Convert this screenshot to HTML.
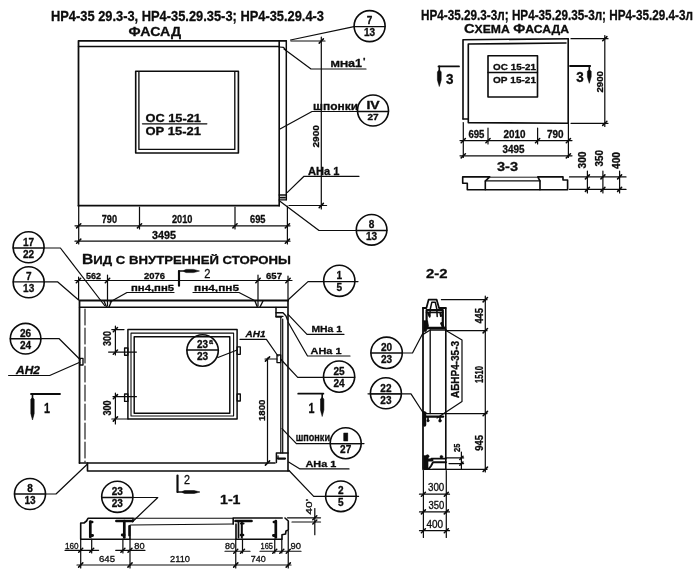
<!DOCTYPE html>
<html lang="ru"><head><meta charset="utf-8"><title>НР4-35.29</title>
<style>
html,body{margin:0;padding:0;background:#fff;}
svg{display:block;will-change:transform;-webkit-font-smoothing:antialiased}
svg text{font-family:"Liberation Sans",sans-serif;fill:#0c0c0c;stroke:#0c0c0c;stroke-width:0.3;stroke-linejoin:round}
svg line,svg path,svg rect,svg circle{stroke:#0c0c0c;stroke-linecap:round;stroke-linejoin:round}
</style></head><body>
<svg width="700" height="584" viewBox="0 0 700 584">
<rect x="0" y="0" width="700" height="584" fill="#fff" stroke="none" style="stroke:none"/>
<text x="51" y="20.5" font-size="15" font-weight="bold" textLength="273" lengthAdjust="spacingAndGlyphs">НР4-35 29.3-3, НР4-35.29.35-3; НР4-35.29.4-3</text>
<text x="128.6" y="36" font-size="12.5" font-weight="bold" textLength="52.4" lengthAdjust="spacingAndGlyphs">ФАСАД</text>
<path d="M78.5 205.7 L78.5 40.8 L286 40.8" stroke-width="1.76" fill="none"/>
<line x1="78.5" y1="46.5" x2="279.2" y2="46.5" stroke-width="1.35"/>
<line x1="279.2" y1="40.8" x2="279.2" y2="205.7" stroke-width="1.62"/>
<line x1="286.3" y1="40.8" x2="286.3" y2="199.8" stroke-width="1.49"/>
<path d="M279.2 47 L283.5 47.3 L285.8 50" stroke-width="1.22" fill="none"/>
<line x1="78.5" y1="205.7" x2="279.2" y2="205.7" stroke-width="1.76"/>
<path d="M279.2 195 L286.3 195" stroke-width="1.35" fill="none"/>
<path d="M279.2 199.8 L286.3 199.8" stroke-width="1.35" fill="none"/>
<line x1="280.5" y1="197.6" x2="285" y2="197.6" stroke-width="1.76"/>
<rect x="135.7" y="71.2" width="102.7" height="81.8" stroke-width="1.62" fill="none"/>
<path d="M138.9 72 L138.9 149.4 L234.8 149.4 L234.8 72" stroke-width="1.35" fill="none"/>
<text x="145.5" y="121.6" font-size="11" font-weight="bold" textLength="55.5" lengthAdjust="spacingAndGlyphs">ОС 15-21</text>
<line x1="142.5" y1="123.8" x2="206.8" y2="123.8" stroke-width="1.35"/>
<text x="145.5" y="135.4" font-size="11" font-weight="bold" textLength="55.5" lengthAdjust="spacingAndGlyphs">ОР 15-21</text>
<path d="M290.5 40 L354 26.6" stroke-width="1.22" fill="none"/>
<line x1="291" y1="41" x2="325" y2="41" stroke-width="1.22"/>
<line x1="321.3" y1="37" x2="321.3" y2="209" stroke-width="1.22"/>
<line x1="319.2" y1="43.1" x2="323.4" y2="38.9" stroke-width="1.55"/>
<line x1="319.2" y1="207.6" x2="323.4" y2="203.4" stroke-width="1.55"/>
<line x1="289" y1="205.5" x2="326.6" y2="205.5" stroke-width="1.22"/>
<text x="318.5" y="147.5" font-size="9.5" font-weight="bold" textLength="22.5" lengthAdjust="spacingAndGlyphs" transform="rotate(-90 318.5 147.5)">2900</text>
<path d="M284 49 L311 69 L366 69" stroke-width="1.22" fill="none"/>
<text x="330.5" y="67" font-weight="bold" textLength="31.5" lengthAdjust="spacingAndGlyphs"><tspan font-size="9">МН</tspan><tspan font-size="10">а</tspan><tspan font-size="10">1</tspan></text>
<text x="363" y="64" font-size="9" font-weight="bold" textLength="2.5" lengthAdjust="spacingAndGlyphs">'</text>
<path d="M280 129 L312 111.5 L359 111.5" stroke-width="1.22" fill="none"/>
<text x="313" y="109.7" font-size="11.5" font-weight="bold" textLength="45" lengthAdjust="spacingAndGlyphs">шпонки</text>
<circle cx="373" cy="110.5" r="15.5" stroke-width="1.62" fill="none"/>
<line x1="357.5" y1="111.5" x2="388.5" y2="111.5" stroke-width="1.35"/>
<text x="366.4" y="109.3" font-size="10" font-weight="bold" font-family="Liberation Serif, serif" textLength="13.2" lengthAdjust="spacingAndGlyphs">IV</text>
<text x="367.4" y="120.28" font-size="9" font-weight="bold" textLength="11.2" lengthAdjust="spacingAndGlyphs">27</text>
<path d="M287.4 192.4 L304 176.3 L359 176.3" stroke-width="1.22" fill="none"/>
<text x="308" y="175" font-size="10.5" font-weight="bold" textLength="31.5" lengthAdjust="spacingAndGlyphs">АНа 1</text>
<path d="M279.3 200.8 L319 230.5 L356 230.5" stroke-width="1.22" fill="none"/>
<circle cx="371.6" cy="229.8" r="15.3" stroke-width="1.62" fill="none"/>
<line x1="356.3" y1="230.5" x2="386.9" y2="230.5" stroke-width="1.35"/>
<text x="368.8" y="228.3" font-size="10.5" font-weight="bold" textLength="5.6" lengthAdjust="spacingAndGlyphs">8</text>
<text x="366.0" y="240.36" font-size="10.5" font-weight="bold" textLength="11.2" lengthAdjust="spacingAndGlyphs">13</text>
<circle cx="369.6" cy="26.1" r="15.5" stroke-width="1.62" fill="none"/>
<line x1="354.1" y1="26.6" x2="385.1" y2="26.6" stroke-width="1.35"/>
<text x="366.8" y="24.4" font-size="10.5" font-weight="bold" textLength="5.6" lengthAdjust="spacingAndGlyphs">7</text>
<text x="364.0" y="36.46" font-size="10.5" font-weight="bold" textLength="11.2" lengthAdjust="spacingAndGlyphs">13</text>
<line x1="78.7" y1="206" x2="78.7" y2="244" stroke-width="1.22"/>
<line x1="139.5" y1="207" x2="139.5" y2="229" stroke-width="1.22"/>
<line x1="235" y1="207" x2="235" y2="229" stroke-width="1.22"/>
<line x1="287.4" y1="206" x2="287.4" y2="244" stroke-width="1.22"/>
<line x1="75" y1="225.8" x2="290" y2="225.8" stroke-width="1.22"/>
<line x1="75" y1="241.2" x2="290" y2="241.2" stroke-width="1.22"/>
<line x1="76.6" y1="227.9" x2="80.8" y2="223.7" stroke-width="1.55"/>
<line x1="137.4" y1="227.9" x2="141.6" y2="223.7" stroke-width="1.55"/>
<line x1="232.9" y1="227.9" x2="237.1" y2="223.7" stroke-width="1.55"/>
<line x1="285.3" y1="227.9" x2="289.5" y2="223.7" stroke-width="1.55"/>
<line x1="76.6" y1="243.3" x2="80.8" y2="239.1" stroke-width="1.55"/>
<line x1="285.3" y1="243.3" x2="289.5" y2="239.1" stroke-width="1.55"/>
<text x="101.7" y="223.3" font-size="10.3" font-weight="bold" textLength="15.3" lengthAdjust="spacingAndGlyphs">790</text>
<text x="172" y="223.3" font-size="10.3" font-weight="bold" textLength="20.5" lengthAdjust="spacingAndGlyphs">2010</text>
<text x="250" y="223.3" font-size="10.3" font-weight="bold" textLength="15.5" lengthAdjust="spacingAndGlyphs">695</text>
<text x="152" y="238.6" font-size="10.5" font-weight="bold" textLength="24" lengthAdjust="spacingAndGlyphs">3495</text>
<text x="82" y="263.5" font-weight="bold" textLength="209" lengthAdjust="spacingAndGlyphs"><tspan font-size="14">В</tspan><tspan font-size="11.8">ИД С ВНУТРЕННЕЙ СТОРОНЫ</tspan></text>
<circle cx="28.6" cy="247.3" r="15.5" stroke-width="1.62" fill="none"/>
<line x1="13.1" y1="248" x2="44.1" y2="248" stroke-width="1.35"/>
<text x="23.0" y="245.8" font-size="10.5" font-weight="bold" textLength="11.2" lengthAdjust="spacingAndGlyphs">17</text>
<text x="23.0" y="257.86" font-size="10.5" font-weight="bold" textLength="11.2" lengthAdjust="spacingAndGlyphs">22</text>
<path d="M44 248 L60.4 248 L104.6 305.5" stroke-width="1.22" fill="none"/>
<circle cx="28.7" cy="282.3" r="15.5" stroke-width="1.62" fill="none"/>
<line x1="13.2" y1="281.8" x2="44.2" y2="281.8" stroke-width="1.35"/>
<text x="25.9" y="279.6" font-size="10.5" font-weight="bold" textLength="5.6" lengthAdjust="spacingAndGlyphs">7</text>
<text x="23.1" y="291.66" font-size="10.5" font-weight="bold" textLength="11.2" lengthAdjust="spacingAndGlyphs">13</text>
<path d="M44 281.8 L57.5 281.8 L78 299.5" stroke-width="1.22" fill="none"/>
<line x1="75" y1="280.5" x2="292" y2="280.5" stroke-width="1.22"/>
<line x1="78.6" y1="277" x2="78.6" y2="300" stroke-width="1.22"/>
<line x1="107.5" y1="275" x2="107.5" y2="306" stroke-width="1.22"/>
<line x1="258" y1="275" x2="258" y2="306" stroke-width="1.22"/>
<line x1="288" y1="276" x2="288" y2="301" stroke-width="1.22"/>
<line x1="76.3" y1="282.7" x2="80.7" y2="278.3" stroke-width="1.55"/>
<line x1="105.3" y1="282.7" x2="109.7" y2="278.3" stroke-width="1.55"/>
<line x1="255.8" y1="282.7" x2="260.2" y2="278.3" stroke-width="1.55"/>
<line x1="285.8" y1="282.7" x2="290.2" y2="278.3" stroke-width="1.55"/>
<text x="86" y="278.5" font-size="9.5" font-weight="bold" textLength="15" lengthAdjust="spacingAndGlyphs">562</text>
<text x="144" y="278.5" font-size="9.5" font-weight="bold" textLength="21" lengthAdjust="spacingAndGlyphs">2076</text>
<text x="266" y="278.5" font-size="9.5" font-weight="bold" textLength="16" lengthAdjust="spacingAndGlyphs">657</text>
<line x1="179" y1="271" x2="179" y2="285.7" stroke-width="2.16"/>
<line x1="179" y1="271" x2="195.5" y2="271" stroke-width="1.62"/>
<path d="M184 270.4 L186 269.4 L193.5 269.4 L199.5 271 L193.5 272.6 L186 272.6 L184 271.6 Z" stroke-width="0.54" fill="#0c0c0c"/>
<text x="204.2" y="278.4" font-size="13.5" font-weight="normal" textLength="6.2" lengthAdjust="spacingAndGlyphs">2</text>
<text x="131" y="291" font-size="9.8" font-weight="bold" textLength="43" lengthAdjust="spacingAndGlyphs">пн4,пн5</text>
<path d="M174 292.5 L127 292.5 L110 302" stroke-width="1.22" fill="none"/>
<text x="194" y="291" font-size="9.8" font-weight="bold" textLength="45" lengthAdjust="spacingAndGlyphs">пн4,пн5</text>
<path d="M193 292.5 L239 292.5 L254.5 300.5" stroke-width="1.22" fill="none"/>
<path d="M104 301 L106.5 307" stroke-width="1.35" fill="none"/>
<path d="M111.5 301 L109 307" stroke-width="1.35" fill="none"/>
<path d="M255 301 L257.3 307" stroke-width="1.35" fill="none"/>
<path d="M263 301 L260 307" stroke-width="1.35" fill="none"/>
<path d="M79.5 463 L79.5 300.5 L288 300.5" stroke-width="1.76" fill="none"/>
<line x1="79.5" y1="307.2" x2="287" y2="307.2" stroke-width="1.35"/>
<line x1="85" y1="309" x2="85" y2="462" stroke-width="1.1" stroke-dasharray="16 3"/>
<line x1="280.8" y1="317" x2="280.8" y2="453" stroke-width="1.22"/>
<line x1="282.7" y1="319" x2="282.7" y2="453" stroke-width="1.22"/>
<line x1="288" y1="300.5" x2="288" y2="471" stroke-width="1.62"/>
<path d="M79.5 463 L275 463" stroke-width="1.62" fill="none"/>
<path d="M87.5 463 L87.5 471 L289 471" stroke-width="1.62" fill="none"/>
<path d="M276 307.5 L276 317 L281.5 317" stroke-width="1.49" fill="none"/>
<path d="M276 312.7 L283 312.7 L286 316 L287.5 320" stroke-width="1.35" fill="none"/>
<line x1="276" y1="316.3" x2="283" y2="316.3" stroke-width="1.35"/>
<path d="M276.4 462.5 L276.4 453 L288 453" stroke-width="1.49" fill="none"/>
<line x1="278" y1="458.6" x2="285" y2="458.6" stroke-width="2.16"/>
<line x1="278" y1="456" x2="278" y2="458.6" stroke-width="1.35"/>
<circle cx="339.3" cy="280.8" r="15.6" stroke-width="1.62" fill="none"/>
<line x1="323.7" y1="281.6" x2="354.9" y2="281.6" stroke-width="1.35"/>
<text x="336.5" y="279.4" font-size="10.5" font-weight="bold" textLength="5.6" lengthAdjust="spacingAndGlyphs">1</text>
<text x="336.5" y="291.46" font-size="10.5" font-weight="bold" textLength="5.6" lengthAdjust="spacingAndGlyphs">5</text>
<path d="M324 281.6 L308 281.6 L288.5 299.5" stroke-width="1.22" fill="none"/>
<line x1="354" y1="281.6" x2="358" y2="281.6" stroke-width="1.22"/>
<rect x="127.9" y="329.6" width="109.2" height="89.4" stroke-width="1.49" fill="none"/>
<rect x="131" y="333.1" width="102.6" height="82.9" stroke-width="1.08" fill="none"/>
<rect x="134.2" y="336.7" width="95.6" height="76.5" stroke-width="1.49" fill="none"/>
<rect x="124.6" y="348" width="3.3" height="7.2" stroke-width="1.35" fill="none"/>
<rect x="124.6" y="394" width="3.3" height="7.4" stroke-width="1.35" fill="none"/>
<rect x="237.1" y="346.8" width="3.2" height="7.5" stroke-width="1.35" fill="none"/>
<rect x="237.1" y="394" width="3.2" height="7" stroke-width="1.35" fill="none"/>
<line x1="115.4" y1="326" x2="115.4" y2="355" stroke-width="1.22"/>
<line x1="111.8" y1="329.6" x2="124" y2="329.6" stroke-width="1.22"/>
<line x1="108.6" y1="352.1" x2="136.4" y2="352.1" stroke-width="1.22"/>
<line x1="113.3" y1="331.7" x2="117.5" y2="327.5" stroke-width="1.55"/>
<line x1="113.3" y1="354.2" x2="117.5" y2="350.0" stroke-width="1.55"/>
<text x="111.2" y="346" font-size="10.3" font-weight="bold" textLength="15" lengthAdjust="spacingAndGlyphs" transform="rotate(-90 111.2 346)">300</text>
<line x1="115.4" y1="393" x2="115.4" y2="424" stroke-width="1.22"/>
<line x1="113" y1="396.7" x2="136.4" y2="396.7" stroke-width="1.22"/>
<line x1="111.8" y1="419" x2="127.9" y2="419" stroke-width="1.22"/>
<line x1="113.3" y1="398.8" x2="117.5" y2="394.6" stroke-width="1.55"/>
<line x1="113.3" y1="421.1" x2="117.5" y2="416.9" stroke-width="1.55"/>
<text x="111.2" y="415.5" font-size="10.3" font-weight="bold" textLength="15.1" lengthAdjust="spacingAndGlyphs" transform="rotate(-90 111.2 415.5)">300</text>
<circle cx="25.6" cy="338.7" r="15.3" stroke-width="1.62" fill="none"/>
<line x1="10.3" y1="338.7" x2="40.9" y2="338.7" stroke-width="1.35"/>
<text x="20.0" y="336.5" font-size="10.5" font-weight="bold" textLength="11.2" lengthAdjust="spacingAndGlyphs">26</text>
<text x="20.0" y="348.56" font-size="10.5" font-weight="bold" textLength="11.2" lengthAdjust="spacingAndGlyphs">24</text>
<path d="M40 338.7 L59.2 338.7 L80 359.5" stroke-width="1.22" fill="none"/>
<rect x="79.8" y="358.4" width="3.2" height="6.6" stroke-width="1.35" fill="none"/>
<text x="16" y="374" font-size="10.3" font-weight="bold" font-style="italic" textLength="24" lengthAdjust="spacingAndGlyphs">АН2</text>
<path d="M8.6 375.5 L49.7 375.5 L79.8 362.3" stroke-width="1.22" fill="none"/>
<line x1="31" y1="394" x2="60" y2="394" stroke-width="1.76"/>
<line x1="32.5" y1="394" x2="32.5" y2="416" stroke-width="1.62"/>
<path d="M31.9 398 L30.8 399.5 L30.8 413.5 L32.5 420 L34.2 413.5 L34.2 399.5 L33.1 398 Z" stroke-width="0.54" fill="#0c0c0c"/>
<text x="44" y="413" font-size="14" font-weight="bold" textLength="6" lengthAdjust="spacingAndGlyphs">1</text>
<circle cx="202.6" cy="350.5" r="15.7" stroke-width="1.62" fill="none"/>
<line x1="186.9" y1="350" x2="218.3" y2="350" stroke-width="1.35"/>
<text x="197.1" y="347.8" font-size="10.5" font-weight="bold" textLength="11.0" lengthAdjust="spacingAndGlyphs">23</text>
<text x="197.0" y="359.86" font-size="10.5" font-weight="bold" textLength="11.2" lengthAdjust="spacingAndGlyphs">23</text>
<text x="209" y="343.5" font-size="7.5" font-weight="bold" textLength="4" lengthAdjust="spacingAndGlyphs">а</text>
<line x1="217.9" y1="357.5" x2="237.1" y2="350" stroke-width="1.22"/>
<text x="245.5" y="337.3" font-size="9.5" font-weight="bold" font-style="italic" textLength="20" lengthAdjust="spacingAndGlyphs">АН1</text>
<path d="M240 339.3 L266.4 339.3 L278 356" stroke-width="1.22" fill="none"/>
<rect x="277" y="355" width="3.7" height="7.6" stroke-width="1.35" fill="none"/>
<line x1="267.5" y1="358" x2="267.5" y2="463" stroke-width="1.22"/>
<line x1="265" y1="359" x2="277" y2="359" stroke-width="1.22"/>
<line x1="265.4" y1="361.1" x2="269.6" y2="356.9" stroke-width="1.55"/>
<line x1="265.4" y1="465.1" x2="269.6" y2="460.9" stroke-width="1.55"/>
<text x="264.5" y="421" font-size="9.5" font-weight="bold" textLength="21.5" lengthAdjust="spacingAndGlyphs" transform="rotate(-90 264.5 421)">1800</text>
<text x="311.4" y="331.5" font-size="9.8" font-weight="bold" textLength="30.6" lengthAdjust="spacingAndGlyphs">МНа 1</text>
<path d="M288 314.3 L307 334.3 L344 334.3" stroke-width="1.22" fill="none"/>
<text x="310.6" y="353.8" font-size="9.8" font-weight="bold" textLength="30.9" lengthAdjust="spacingAndGlyphs">АНа 1</text>
<path d="M288 322 L307.5 356 L350 356" stroke-width="1.22" fill="none"/>
<circle cx="339.1" cy="376.6" r="15.6" stroke-width="1.62" fill="none"/>
<line x1="323.5" y1="377.4" x2="354.7" y2="377.4" stroke-width="1.35"/>
<text x="333.5" y="375.2" font-size="10.5" font-weight="bold" textLength="11.2" lengthAdjust="spacingAndGlyphs">25</text>
<text x="333.5" y="387.26" font-size="10.5" font-weight="bold" textLength="11.2" lengthAdjust="spacingAndGlyphs">24</text>
<path d="M324 377.4 L297.7 377.4 L281 359.5" stroke-width="1.22" fill="none"/>
<line x1="298.2" y1="393.7" x2="323.4" y2="393.7" stroke-width="1.76"/>
<line x1="322.2" y1="393.7" x2="322.2" y2="412.5" stroke-width="1.62"/>
<path d="M321.6 397.7 L320.5 399.2 L320.5 410.0 L322.2 416.5 L323.9 410.0 L323.9 399.2 L322.8 397.7 Z" stroke-width="0.54" fill="#0c0c0c"/>
<text x="308.5" y="413" font-size="14" font-weight="bold" textLength="6.0" lengthAdjust="spacingAndGlyphs">1</text>
<text x="295.7" y="440.7" font-size="11" font-weight="bold" textLength="34.3" lengthAdjust="spacingAndGlyphs">шпонки</text>
<path d="M282 428.6 L296.4 443.6 L330 443.6" stroke-width="1.22" fill="none"/>
<circle cx="345.7" cy="443.2" r="15.5" stroke-width="1.62" fill="none"/>
<line x1="330.2" y1="443.6" x2="361.2" y2="443.6" stroke-width="1.35"/>
<text x="341.9" y="441.4" font-size="11.5" font-weight="bold" font-family="Liberation Serif, serif" textLength="7.6" lengthAdjust="spacingAndGlyphs">I</text>
<text x="340.1" y="453.46" font-size="10.5" font-weight="bold" textLength="11.2" lengthAdjust="spacingAndGlyphs">27</text>
<line x1="330" y1="443.6" x2="364" y2="443.6" stroke-width="1.22"/>
<text x="305.4" y="467.2" font-size="9.8" font-weight="bold" textLength="30.9" lengthAdjust="spacingAndGlyphs">АНа 1</text>
<path d="M288.6 462 L300 468.9 L349 468.9" stroke-width="1.22" fill="none"/>
<circle cx="340.9" cy="496.3" r="15.3" stroke-width="1.62" fill="none"/>
<line x1="325.6" y1="496.3" x2="356.2" y2="496.3" stroke-width="1.35"/>
<text x="338.1" y="494.1" font-size="10.5" font-weight="bold" textLength="5.6" lengthAdjust="spacingAndGlyphs">2</text>
<text x="338.1" y="506.16" font-size="10.5" font-weight="bold" textLength="5.6" lengthAdjust="spacingAndGlyphs">5</text>
<path d="M358.6 496.3 L313.7 496.3 L289 470.5" stroke-width="1.22" fill="none"/>
<circle cx="30" cy="494" r="15.5" stroke-width="1.62" fill="none"/>
<line x1="14.5" y1="494" x2="45.5" y2="494" stroke-width="1.35"/>
<text x="27.2" y="491.8" font-size="10.5" font-weight="bold" textLength="5.6" lengthAdjust="spacingAndGlyphs">8</text>
<text x="24.4" y="503.86" font-size="10.5" font-weight="bold" textLength="11.2" lengthAdjust="spacingAndGlyphs">13</text>
<path d="M45.5 494 L56 494 L87.5 464" stroke-width="1.22" fill="none"/>
<line x1="177.5" y1="475.5" x2="177.5" y2="492" stroke-width="2.16"/>
<line x1="177.5" y1="492" x2="196" y2="492" stroke-width="1.62"/>
<path d="M182.5 491.4 L184.5 490.5 L194 490.5 L200 492 L194 493.5 L184.5 493.5 L182.5 492.6 Z" stroke-width="0.54" fill="#0c0c0c"/>
<text x="184" y="484" font-size="12" font-weight="normal" textLength="6" lengthAdjust="spacingAndGlyphs">2</text>
<text x="220" y="503.5" font-size="13" font-weight="bold" textLength="20.5" lengthAdjust="spacingAndGlyphs">1-1</text>
<circle cx="117.3" cy="496.8" r="15.6" stroke-width="1.62" fill="none"/>
<line x1="101.7" y1="497.5" x2="132.9" y2="497.5" stroke-width="1.35"/>
<text x="111.7" y="495.3" font-size="10.5" font-weight="bold" textLength="11.2" lengthAdjust="spacingAndGlyphs">23</text>
<text x="111.7" y="507.36" font-size="10.5" font-weight="bold" textLength="11.2" lengthAdjust="spacingAndGlyphs">23</text>
<path d="M133 497.5 L157.8 497.5 L132.5 521.8" stroke-width="1.22" fill="none"/>
<path d="M133 521.5 L133 518.3 L88 518.3 L86.5 521 L84 523 L80.7 523 L80.7 539.2 L130 539.2 L130 525.5" stroke-width="1.62" fill="none"/>
<line x1="133" y1="518.3" x2="233.2" y2="518.3" stroke-width="1.08"/>
<line x1="130.7" y1="525" x2="233.2" y2="524" stroke-width="1.22"/>
<line x1="130" y1="539.2" x2="236" y2="539.2" stroke-width="1.08"/>
<path d="M233.2 524 L233.2 518 L282.2 518" stroke-width="1.62" fill="none"/>
<path d="M285 518 L288.3 521 L288.3 530 L286 531 L285.5 534 L282 534.7 L282 539.2 L236 539.2 L236 524" stroke-width="1.62" fill="none"/>
<line x1="90.3" y1="521.5" x2="90.3" y2="537" stroke-width="2.7"/>
<line x1="90.5" y1="522" x2="92.3" y2="522" stroke-width="2.43"/>
<line x1="90.5" y1="535.5" x2="92.5" y2="535.5" stroke-width="2.97"/>
<line x1="116.4" y1="521" x2="132" y2="521" stroke-width="2.7"/>
<line x1="124.3" y1="521" x2="124.3" y2="537.5" stroke-width="2.7"/>
<line x1="122.3" y1="535" x2="124" y2="535" stroke-width="2.97"/>
<line x1="129.3" y1="526" x2="129.3" y2="535.5" stroke-width="2.16"/>
<line x1="235.5" y1="521" x2="251.5" y2="521" stroke-width="2.7"/>
<line x1="238.5" y1="521" x2="238.5" y2="537.5" stroke-width="1.76"/>
<line x1="241.8" y1="521" x2="241.8" y2="537.5" stroke-width="2.03"/>
<line x1="241" y1="535" x2="243" y2="535" stroke-width="2.7"/>
<line x1="241" y1="523.5" x2="243.5" y2="523.5" stroke-width="2.16"/>
<line x1="275.8" y1="521" x2="275.8" y2="537.5" stroke-width="2.7"/>
<line x1="273.8" y1="522" x2="275.5" y2="522" stroke-width="2.43"/>
<line x1="273.5" y1="535.5" x2="275.5" y2="535.5" stroke-width="2.97"/>
<line x1="80.7" y1="539" x2="80.7" y2="568" stroke-width="1.22"/>
<line x1="91.7" y1="539" x2="91.7" y2="553" stroke-width="1.22"/>
<line x1="122.9" y1="539" x2="122.9" y2="553" stroke-width="1.22"/>
<line x1="130" y1="539" x2="130" y2="568" stroke-width="1.22"/>
<line x1="65" y1="550.3" x2="98.6" y2="550.3" stroke-width="1.22"/>
<line x1="115.7" y1="550.3" x2="145" y2="550.3" stroke-width="1.22"/>
<line x1="78.7" y1="552.3" x2="82.7" y2="548.3" stroke-width="1.55"/>
<line x1="89.7" y1="552.3" x2="93.7" y2="548.3" stroke-width="1.55"/>
<line x1="120.9" y1="552.3" x2="124.9" y2="548.3" stroke-width="1.55"/>
<line x1="128" y1="552.3" x2="132" y2="548.3" stroke-width="1.55"/>
<text x="65" y="548.5" font-size="9.5" font-weight="normal" textLength="13.6" lengthAdjust="spacingAndGlyphs">160</text>
<text x="134.3" y="548.5" font-size="9.5" font-weight="normal" textLength="10.3" lengthAdjust="spacingAndGlyphs">80</text>
<line x1="77" y1="565" x2="291" y2="565" stroke-width="1.22"/>
<line x1="78.6" y1="567.1" x2="82.8" y2="562.9" stroke-width="1.55"/>
<line x1="127.9" y1="567.1" x2="132.1" y2="562.9" stroke-width="1.55"/>
<line x1="233.65" y1="567.1" x2="237.85" y2="562.9" stroke-width="1.55"/>
<line x1="286.15" y1="567.1" x2="290.35" y2="562.9" stroke-width="1.55"/>
<text x="99" y="562" font-size="9.5" font-weight="normal" textLength="16" lengthAdjust="spacingAndGlyphs">645</text>
<text x="170" y="562" font-size="9.5" font-weight="normal" textLength="20" lengthAdjust="spacingAndGlyphs">2110</text>
<text x="250.75" y="562" font-size="9.5" font-weight="normal" textLength="15.0" lengthAdjust="spacingAndGlyphs">740</text>
<line x1="235.75" y1="539" x2="235.75" y2="568" stroke-width="1.22"/>
<line x1="242.5" y1="539" x2="242.5" y2="553" stroke-width="1.22"/>
<line x1="274.75" y1="539" x2="274.75" y2="553" stroke-width="1.22"/>
<line x1="281.8" y1="539" x2="281.8" y2="553" stroke-width="1.22"/>
<line x1="288.25" y1="531" x2="288.25" y2="568" stroke-width="1.22"/>
<line x1="225" y1="551.25" x2="250" y2="551.25" stroke-width="1.22"/>
<line x1="260" y1="551.25" x2="301" y2="551.25" stroke-width="1.22"/>
<line x1="233.75" y1="553.25" x2="237.75" y2="549.25" stroke-width="1.55"/>
<line x1="240.5" y1="553.25" x2="244.5" y2="549.25" stroke-width="1.55"/>
<line x1="272.75" y1="553.25" x2="276.75" y2="549.25" stroke-width="1.55"/>
<line x1="279.8" y1="553.25" x2="283.8" y2="549.25" stroke-width="1.55"/>
<line x1="286.25" y1="553.25" x2="290.25" y2="549.25" stroke-width="1.55"/>
<text x="225" y="549" font-size="9.5" font-weight="normal" textLength="10" lengthAdjust="spacingAndGlyphs">80</text>
<text x="260.5" y="549" font-size="9.5" font-weight="normal" textLength="12.5" lengthAdjust="spacingAndGlyphs">165</text>
<text x="290.5" y="549" font-size="9.5" font-weight="normal" textLength="10.5" lengthAdjust="spacingAndGlyphs">90</text>
<line x1="287.5" y1="517.8" x2="320.5" y2="517.8" stroke-width="1.22"/>
<line x1="292" y1="522" x2="320.5" y2="522" stroke-width="1.22"/>
<line x1="314.8" y1="508.5" x2="314.8" y2="534.75" stroke-width="1.22"/>
<line x1="312.8" y1="519.8" x2="316.8" y2="515.8" stroke-width="1.55"/>
<line x1="312.8" y1="524" x2="316.8" y2="520" stroke-width="1.55"/>
<text x="311.5" y="514.5" font-size="9.5" font-weight="normal" textLength="15.5" lengthAdjust="spacingAndGlyphs" transform="rotate(-90 311.5 514.5)">40'</text>
<text x="421" y="20.3" font-size="14.5" font-weight="bold" textLength="272" lengthAdjust="spacingAndGlyphs">НР4-35.29.3-3л; НР4-35.29.35-3л; НР4-35.29.4-3л</text>
<text x="464" y="33" font-weight="bold" textLength="105" lengthAdjust="spacingAndGlyphs"><tspan font-size="13">С</tspan><tspan font-size="10.8">ХЕМА </tspan><tspan font-size="12.5">Ф</tspan><tspan font-size="10.8">АСАДА</tspan></text>
<path d="M463 119 L463 39.7 L568.2 38.8" stroke-width="1.62" fill="none"/>
<path d="M463 119 L468.3 119" stroke-width="1.35" fill="none"/>
<path d="M566 43 L468.3 44 L468.3 122.7 L568.2 123.2 L568.2 38.8" stroke-width="1.62" fill="none"/>
<rect x="488" y="55.7" width="49.5" height="41.3" stroke-width="1.62" fill="none"/>
<text x="493" y="70.3" font-size="9.8" font-weight="bold" textLength="43" lengthAdjust="spacingAndGlyphs">ОС 15-21</text>
<line x1="488" y1="72.5" x2="537.5" y2="72.5" stroke-width="1.35"/>
<text x="493" y="83.3" font-size="9.8" font-weight="bold" textLength="43" lengthAdjust="spacingAndGlyphs">ОР 15-21</text>
<line x1="438.5" y1="66.4" x2="459" y2="66.4" stroke-width="1.76"/>
<line x1="439.3" y1="66.4" x2="439.3" y2="82.5" stroke-width="1.62"/>
<path d="M438.7 70.4 L437.4 71.9 L437.4 80.0 L439.3 86.5 L441.2 80.0 L441.2 71.9 L439.9 70.4 Z" stroke-width="0.54" fill="#0c0c0c"/>
<text x="446" y="83.5" font-size="14" font-weight="bold" textLength="7.5" lengthAdjust="spacingAndGlyphs">3</text>
<line x1="570" y1="66" x2="590.2" y2="66" stroke-width="1.76"/>
<line x1="589.3" y1="66" x2="589.3" y2="79.3" stroke-width="1.62"/>
<path d="M588.7 70 L587.4 71.5 L587.4 76.8 L589.3 83.3 L591.2 76.8 L591.2 71.5 L589.9 70 Z" stroke-width="0.54" fill="#0c0c0c"/>
<text x="576.2" y="82.2" font-size="14.5" font-weight="bold" textLength="7.5" lengthAdjust="spacingAndGlyphs">3</text>
<line x1="571" y1="38.7" x2="608" y2="38.7" stroke-width="1.22"/>
<line x1="571" y1="123.3" x2="608" y2="123.3" stroke-width="1.22"/>
<line x1="604.8" y1="35.5" x2="604.8" y2="126.5" stroke-width="1.22"/>
<line x1="602.7" y1="40.8" x2="606.9" y2="36.6" stroke-width="1.55"/>
<line x1="602.7" y1="125.4" x2="606.9" y2="121.2" stroke-width="1.55"/>
<text x="602.5" y="92.5" font-size="9.5" font-weight="bold" textLength="21.5" lengthAdjust="spacingAndGlyphs" transform="rotate(-90 602.5 92.5)">2900</text>
<line x1="463.3" y1="122.5" x2="463.3" y2="157.5" stroke-width="1.22"/>
<line x1="488" y1="128" x2="488" y2="144" stroke-width="1.22"/>
<line x1="537.6" y1="128" x2="537.6" y2="144" stroke-width="1.22"/>
<line x1="568.4" y1="123" x2="568.4" y2="157.5" stroke-width="1.22"/>
<line x1="460" y1="140.6" x2="572" y2="140.6" stroke-width="1.22"/>
<line x1="460" y1="155.8" x2="572" y2="155.8" stroke-width="1.22"/>
<line x1="461.2" y1="142.7" x2="465.4" y2="138.5" stroke-width="1.55"/>
<line x1="485.9" y1="142.7" x2="490.1" y2="138.5" stroke-width="1.55"/>
<line x1="535.5" y1="142.7" x2="539.7" y2="138.5" stroke-width="1.55"/>
<line x1="566.3" y1="142.7" x2="570.5" y2="138.5" stroke-width="1.55"/>
<line x1="461.2" y1="157.9" x2="465.4" y2="153.7" stroke-width="1.55"/>
<line x1="566.3" y1="157.9" x2="570.5" y2="153.7" stroke-width="1.55"/>
<text x="468.4" y="137.6" font-size="10.3" font-weight="bold" textLength="16.0" lengthAdjust="spacingAndGlyphs">695</text>
<text x="503.6" y="137.6" font-size="10.3" font-weight="bold" textLength="22.0" lengthAdjust="spacingAndGlyphs">2010</text>
<text x="547" y="137.6" font-size="10.3" font-weight="bold" textLength="16.6" lengthAdjust="spacingAndGlyphs">790</text>
<text x="502.4" y="153" font-size="10.8" font-weight="bold" textLength="22.0" lengthAdjust="spacingAndGlyphs">3495</text>
<text x="497" y="171" font-size="13" font-weight="bold" textLength="21" lengthAdjust="spacingAndGlyphs">3-3</text>
<path d="M489.7 176.9 L462.7 176.9 L462.7 183.3 L467.3 183.3 L467.3 189.7 L485.3 189.7 L485.3 181.2 L489.7 176.9" stroke-width="1.62" fill="none"/>
<line x1="489.7" y1="177.2" x2="537.8" y2="177.2" stroke-width="0.94"/>
<line x1="485.3" y1="180.9" x2="540" y2="180.9" stroke-width="1.35"/>
<line x1="485.3" y1="189.7" x2="540" y2="189.7" stroke-width="1.35"/>
<path d="M537.8 176.9 L563 176.9 L563 180 L567.6 180 L567.6 189.7 L540 189.7 L540 181 L537.8 176.9" stroke-width="1.62" fill="none"/>
<line x1="569.5" y1="176.9" x2="626" y2="176.9" stroke-width="1.22"/>
<line x1="569.5" y1="189.4" x2="626" y2="189.4" stroke-width="1.22"/>
<line x1="587.4" y1="171" x2="587.4" y2="193" stroke-width="1.22"/>
<line x1="585.4" y1="178.9" x2="589.4" y2="174.9" stroke-width="1.55"/>
<line x1="585.4" y1="191.4" x2="589.4" y2="187.4" stroke-width="1.55"/>
<line x1="602.9" y1="171" x2="602.9" y2="193" stroke-width="1.22"/>
<line x1="600.9" y1="178.9" x2="604.9" y2="174.9" stroke-width="1.55"/>
<line x1="600.9" y1="191.4" x2="604.9" y2="187.4" stroke-width="1.55"/>
<line x1="619.6" y1="171" x2="619.6" y2="193" stroke-width="1.22"/>
<line x1="617.6" y1="178.9" x2="621.6" y2="174.9" stroke-width="1.55"/>
<line x1="617.6" y1="191.4" x2="621.6" y2="187.4" stroke-width="1.55"/>
<text x="586.2" y="168.5" font-size="10.3" font-weight="bold" textLength="17.0" lengthAdjust="spacingAndGlyphs" transform="rotate(-90 586.2 168.5)">300</text>
<text x="603.3" y="166.5" font-size="10.3" font-weight="bold" textLength="16.5" lengthAdjust="spacingAndGlyphs" transform="rotate(-90 603.3 166.5)">350</text>
<text x="620.4" y="169" font-size="10.3" font-weight="bold" textLength="17" lengthAdjust="spacingAndGlyphs" transform="rotate(-90 620.4 169)">400</text>
<text x="426" y="278" font-size="13.5" font-weight="bold" textLength="21.5" lengthAdjust="spacingAndGlyphs">2-2</text>
<line x1="423" y1="308" x2="423" y2="469.3" stroke-width="1.76"/>
<line x1="445.8" y1="308" x2="445.8" y2="469.3" stroke-width="1.62"/>
<path d="M423 308 L426.4 308 L428.6 299.7 L436.7 299.7 L439 308 L445.8 308" stroke-width="1.76" fill="none"/>
<path d="M429.7 317 L430.3 309 L431.8 302.3 L435.3 302.3 L436.8 309 L437.2 316.5" stroke-width="1.49" fill="none"/>
<path d="M426.6 327.5 L426.6 310.2 L442.8 310.2 L442.8 327.5" stroke-width="2.16" fill="none"/>
<line x1="426.4" y1="312.5" x2="442.8" y2="312.5" stroke-width="1.35"/>
<line x1="425" y1="328" x2="445" y2="328" stroke-width="2.7"/>
<path d="M423.6 320.7 L427.5 320.7 L428.5 326 L426 331.4 L423.6 331.4 Z" stroke-width="0.68" fill="#0c0c0c"/>
<line x1="441.5" y1="323.5" x2="443" y2="326.5" stroke-width="2.7"/>
<line x1="428.5" y1="313.5" x2="429.5" y2="316" stroke-width="2.16"/>
<line x1="440.5" y1="313.5" x2="441" y2="316" stroke-width="2.16"/>
<circle cx="386.6" cy="352.8" r="15.7" stroke-width="1.62" fill="none"/>
<line x1="370.9" y1="353" x2="402.3" y2="353" stroke-width="1.35"/>
<text x="381.0" y="350.8" font-size="10.5" font-weight="bold" textLength="11.2" lengthAdjust="spacingAndGlyphs">20</text>
<text x="381.0" y="362.86" font-size="10.5" font-weight="bold" textLength="11.2" lengthAdjust="spacingAndGlyphs">23</text>
<path d="M402 353 L412.5 353 L423 333" stroke-width="1.22" fill="none"/>
<circle cx="385.9" cy="393.3" r="15.5" stroke-width="1.62" fill="none"/>
<line x1="370.4" y1="393.8" x2="401.4" y2="393.8" stroke-width="1.35"/>
<text x="380.3" y="391.6" font-size="10.5" font-weight="bold" textLength="11.2" lengthAdjust="spacingAndGlyphs">22</text>
<text x="380.3" y="403.66" font-size="10.5" font-weight="bold" textLength="11.2" lengthAdjust="spacingAndGlyphs">23</text>
<path d="M368 393.8 L411 393.8 L423 412.5" stroke-width="1.22" fill="none"/>
<path d="M423 334.3 L430.2 330 L446.4 330" stroke-width="1.35" fill="none"/>
<line x1="430.2" y1="330" x2="430.2" y2="413.6" stroke-width="1.35"/>
<path d="M423 411.5 L427 413.6 L446 413.6" stroke-width="1.35" fill="none"/>
<path d="M446.4 330.7 L462 340 L462 401.4 L437 418" stroke-width="1.22" fill="none"/>
<text x="459.3" y="398" font-size="10.5" font-weight="bold" textLength="57" lengthAdjust="spacingAndGlyphs" transform="rotate(-90 459.3 398)">АБНР4-35-3</text>
<line x1="426.4" y1="416.6" x2="443" y2="416.6" stroke-width="2.43"/>
<line x1="424.5" y1="413" x2="424.5" y2="425" stroke-width="3.51"/>
<circle cx="440" cy="420.7" r="1.5" fill="#0c0c0c" stroke-width="0.3"/>
<circle cx="428" cy="420.7" r="1.3" fill="#0c0c0c" stroke-width="0.3"/>
<line x1="428" y1="417" x2="428" y2="420" stroke-width="1.62"/>
<line x1="440" y1="417" x2="440" y2="420" stroke-width="1.62"/>
<path d="M423.6 455.7 L428 455.7 L428 468 L423.6 468 Z" stroke-width="0.68" fill="#0c0c0c"/>
<line x1="431.4" y1="458.6" x2="446" y2="458.6" stroke-width="1.76"/>
<path d="M446 462.3 L433 462.3 L431 466 L429 468.6 L424 468.6" stroke-width="1.89" fill="none"/>
<line x1="427" y1="460" x2="432" y2="460" stroke-width="2.97"/>
<circle cx="441.4" cy="456.8" r="1.5" fill="#0c0c0c" stroke-width="0.3"/>
<circle cx="427.5" cy="456.2" r="1.6" fill="#0c0c0c" stroke-width="0.3"/>
<line x1="424" y1="469.3" x2="446" y2="469.3" stroke-width="1.35"/>
<line x1="441.4" y1="299.7" x2="487" y2="299.7" stroke-width="1.22"/>
<line x1="446" y1="330.7" x2="487" y2="330.7" stroke-width="1.22"/>
<line x1="446" y1="413.6" x2="487" y2="413.6" stroke-width="1.22"/>
<line x1="432.5" y1="469.3" x2="487" y2="469.3" stroke-width="1.22"/>
<line x1="485.3" y1="296" x2="485.3" y2="472" stroke-width="1.22"/>
<line x1="483.1" y1="301.9" x2="487.5" y2="297.5" stroke-width="1.55"/>
<line x1="483.1" y1="332.9" x2="487.5" y2="328.5" stroke-width="1.55"/>
<line x1="483.1" y1="415.8" x2="487.5" y2="411.4" stroke-width="1.55"/>
<line x1="483.1" y1="471.5" x2="487.5" y2="467.1" stroke-width="1.55"/>
<text x="482.7" y="323.6" font-size="10.5" font-weight="bold" textLength="15.6" lengthAdjust="spacingAndGlyphs" transform="rotate(-90 482.7 323.6)">445</text>
<text x="482.7" y="383" font-size="10.5" font-weight="bold" textLength="17" lengthAdjust="spacingAndGlyphs" transform="rotate(-90 482.7 383)">1510</text>
<text x="483" y="450.7" font-size="10.5" font-weight="bold" textLength="15.7" lengthAdjust="spacingAndGlyphs" transform="rotate(-90 483 450.7)">945</text>
<line x1="446" y1="457.9" x2="463.6" y2="457.9" stroke-width="1.22"/>
<line x1="449" y1="463.6" x2="463.6" y2="463.6" stroke-width="1.22"/>
<line x1="461.4" y1="452" x2="461.4" y2="469.3" stroke-width="1.22"/>
<line x1="459.8" y1="459.5" x2="463.0" y2="456.3" stroke-width="1.55"/>
<line x1="459.8" y1="465.2" x2="463.0" y2="462.0" stroke-width="1.55"/>
<text x="460" y="452" font-size="9.5" font-weight="bold" textLength="8.4" lengthAdjust="spacingAndGlyphs" transform="rotate(-90 460 452)">25</text>
<line x1="423.4" y1="470.5" x2="423.4" y2="537.5" stroke-width="1.22"/>
<line x1="446.3" y1="470.5" x2="446.3" y2="537.5" stroke-width="1.22"/>
<line x1="419.5" y1="494.2" x2="449.5" y2="494.2" stroke-width="1.22"/>
<line x1="421.4" y1="496.2" x2="425.4" y2="492.2" stroke-width="1.55"/>
<line x1="444.3" y1="496.2" x2="448.3" y2="492.2" stroke-width="1.55"/>
<line x1="419.5" y1="511.9" x2="449.5" y2="511.9" stroke-width="1.22"/>
<line x1="421.4" y1="513.9" x2="425.4" y2="509.9" stroke-width="1.55"/>
<line x1="444.3" y1="513.9" x2="448.3" y2="509.9" stroke-width="1.55"/>
<line x1="419.5" y1="530.7" x2="449.5" y2="530.7" stroke-width="1.22"/>
<line x1="421.4" y1="532.7" x2="425.4" y2="528.7" stroke-width="1.55"/>
<line x1="444.3" y1="532.7" x2="448.3" y2="528.7" stroke-width="1.55"/>
<text x="428" y="491.3" font-size="10" font-weight="normal" textLength="16.3" lengthAdjust="spacingAndGlyphs">300</text>
<text x="428.5" y="508.7" font-size="10" font-weight="normal" textLength="15.8" lengthAdjust="spacingAndGlyphs">350</text>
<text x="426.4" y="528" font-size="10" font-weight="normal" textLength="16.6" lengthAdjust="spacingAndGlyphs">400</text>
</svg>
</body></html>
